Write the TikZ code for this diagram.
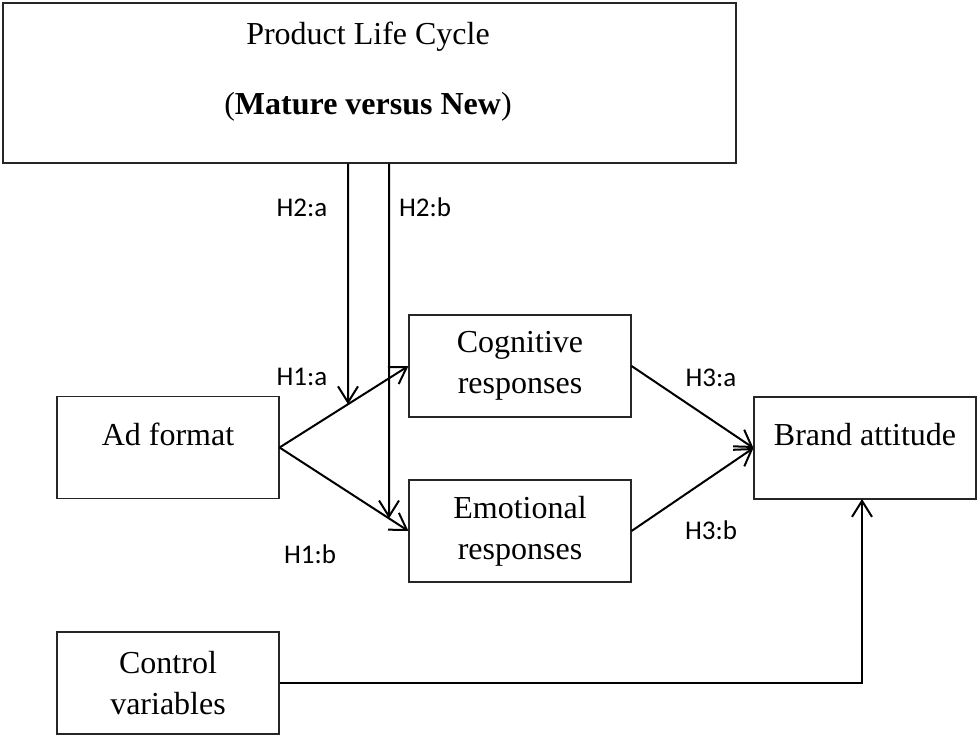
\documentclass[tikz,border=0pt]{standalone}
\usepackage{fontspec}
\setmainfont{Liberation Serif}
\newfontfamily\labelfont{Carlito}
\usetikzlibrary{arrows.meta,calc}

\begin{document}
\begin{tikzpicture}[x=1pt,y=-1pt,
  box/.style={draw=black!85, line width=1.1pt, minimum width=222pt,
    minimum height=102pt, inner sep=0pt, align=center,
    font=\fontsize{32}{41}\selectfont},
  single/.style={text height=22pt, text depth=27pt},
  link/.style={line width=2pt, -{Straight Barb[length=16pt,width=20pt]}},
  hyp/.style={font=\labelfont\fontsize{27}{30}\selectfont, anchor=base, inner sep=0pt},
  title/.style={font=\fontsize{32}{41}\selectfont, anchor=base, inner sep=0pt}]

\useasboundingbox (0,0) rectangle (977,736);

% moderator box
\node[box, minimum width=733pt, minimum height=160pt] (plc) at (369.5,83) {};
\node[title] (plct) at (368,44) {Product Life Cycle};
\node[title] (plcs) at (368,114) {(\textbf{Mature versus New})};

% constructs
\node[box, single] (ad)    at (168,447.5) {Ad format};
\node[box]         (cog)   at (520,366)   {Cognitive\\responses};
\node[box]         (emo)   at (520,531)   {Emotional\\responses};
\node[box, single] (brand) at (865,448)   {Brand attitude};
\node[box]         (ctrl)  at (168,683)   {Control\\variables};

% main paths
\draw[link] (ad.east) -- (cog.west);
\draw[link] (ad.east) -- (emo.west);
\draw[link] (cog.east) -- (brand.west);
\draw[link] (emo.east) -- (brand.west);
\coordinate (ctrlup) at (862,499);
\draw[link] (ctrl.east) -| (ctrlup);

% moderation arrows onto the H1 paths
\coordinate (h2a) at (348,0);
\coordinate (h2alow) at (348,700);
\coordinate (h2b) at (389,0);
\coordinate (h2blow) at (389,700);
\coordinate (h2aend) at (intersection of ad.east--cog.west and h2a--h2alow);
\coordinate (h2bend) at (intersection of ad.east--emo.west and h2b--h2blow);
\draw[link] (plc.south -| h2a) -- (h2aend);
\draw[link] (plc.south -| h2b) -- (h2bend);

% hypothesis labels
\node[hyp] (lh2a) at (302,216) {H2:a};
\node[hyp] (lh2b) at (425,216) {H2:b};
\node[hyp] (lh1a) at (302,385) {H1:a};
\node[hyp] (lh1b) at (310,563) {H1:b};
\node[hyp] (lh3a) at (711,386) {H3:a};
\node[hyp] (lh3b) at (711,539) {H3:b};
\end{tikzpicture}
\end{document}
